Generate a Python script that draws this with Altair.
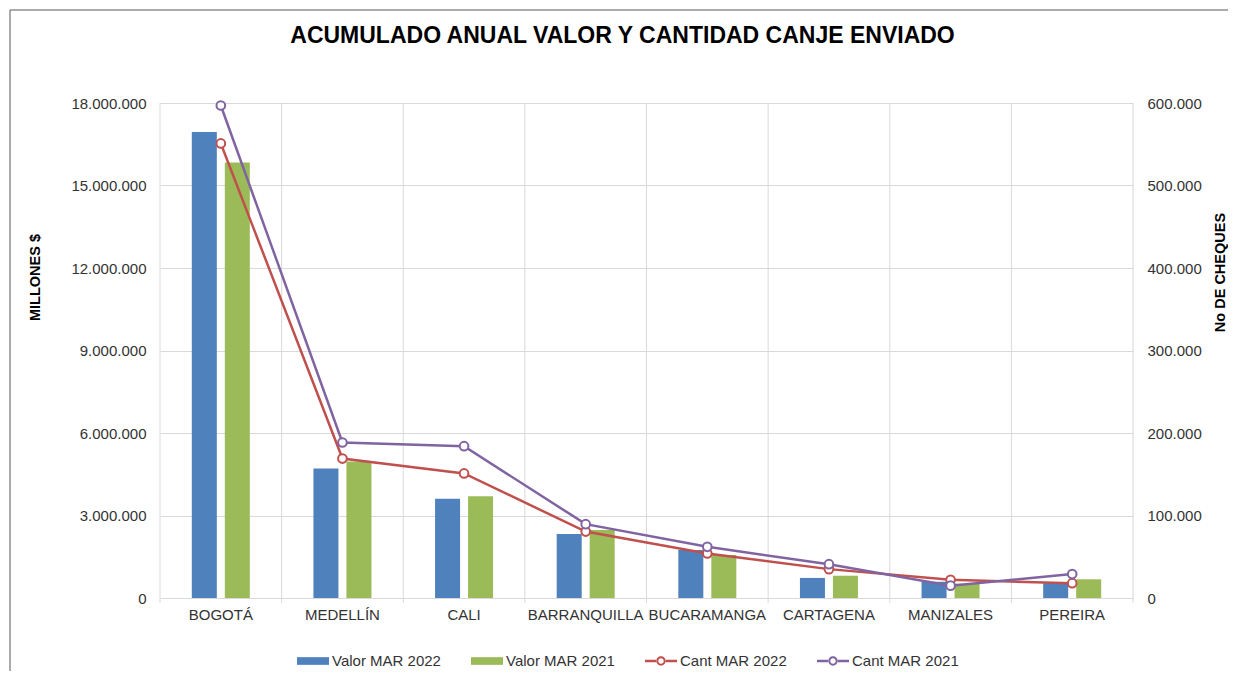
import altair as alt
import pandas as pd

# ---------------- data ----------------
cities = ["BOGOTÁ", "MEDELLÍN", "CALI", "BARRANQUILLA", "BUCARAMANGA",
          "CARTAGENA", "MANIZALES", "PEREIRA"]
valor_mar_2022 = [16950000, 4710000, 3610000, 2330000, 1750000, 730000, 590000, 540000]
valor_mar_2021 = [15840000, 4960000, 3700000, 2470000, 1560000, 810000, 520000, 680000]
cant_mar_2022 = [551000, 169000, 151000, 80500, 54000, 35000, 22000, 18000]
cant_mar_2021 = [597000, 188500, 184000, 89500, 62000, 41000, 15000, 29000]

series = ["Valor MAR 2022", "Valor MAR 2021", "Cant MAR 2022", "Cant MAR 2021"]
left_ticks = [0, 3000000, 6000000, 9000000, 12000000, 15000000, 18000000]
right_ticks = [0, 100000, 200000, 300000, 400000, 500000, 600000]

# ---------------- styling ----------------
W, H = 973, 495
FONT = "Liberation Sans"
colors = ["#4f81bd", "#9bbb59", "#c0504d", "#8064a2"]
GRID = "#d9d9d9"
TXT = "#333333"

bars_df = pd.DataFrame(
    [{"ciudad": c, "serie": series[0], "valor": v} for c, v in zip(cities, valor_mar_2022)]
    + [{"ciudad": c, "serie": series[1], "valor": v} for c, v in zip(cities, valor_mar_2021)]
)
lines_df = pd.DataFrame(
    [{"ciudad": c, "serie": series[2], "cant": v} for c, v in zip(cities, cant_mar_2022)]
    + [{"ciudad": c, "serie": series[3], "cant": v} for c, v in zip(cities, cant_mar_2021)]
)
city_df = pd.DataFrame({"ciudad": cities})
one_df = pd.DataFrame({"k": [0]})

xscale = alt.Scale(domain=cities, paddingInner=0, paddingOuter=0)
x_axis = alt.Axis(title=None, labelAngle=0, labelFontSize=15, labelColor=TXT, labelPadding=9,
                  ticks=False, domain=False, grid=False, labelOverlap=False, labelFont=FONT)
yleft = alt.Scale(domain=[0, 18000000], nice=False)
yleft_axis = alt.Axis(
    orient="left", values=left_ticks, format=",d", grid=True, gridColor=GRID, ticks=False,
    domain=False, labelFontSize=15, labelColor=TXT, labelPadding=14, labelFont=FONT,
    title="MILLONES $", titleFontSize=14.5, titleFontWeight="bold", titleColor="black",
    titleFont=FONT, titleAngle=270, titleX=-125, titleY=174, titleAlign="center",
    titleBaseline="middle")
yright = alt.Scale(domain=[0, 600000], nice=False)
yright_axis = alt.Axis(
    orient="right", values=right_ticks, format=",d", grid=False, ticks=False, domain=False,
    labelFontSize=15, labelColor=TXT, labelPadding=14, labelFont=FONT,
    title="No DE CHEQUES", titleFontSize=14.5, titleFontWeight="bold", titleColor="black",
    titleFont=FONT, titleAngle=270, titleX=87, titleY=169, titleAlign="center",
    titleBaseline="middle")

border = alt.Chart(one_df).mark_rect(filled=False, stroke="#595959", strokeWidth=1).encode(
    x=alt.value(-150), x2=alt.value(W + 300), y=alt.value(-93), y2=alt.value(H + 300)
)

vgrid = alt.Chart(city_df).mark_rule(color=GRID, strokeWidth=1).encode(
    x=alt.X("ciudad:N", scale=xscale, bandPosition=0, axis=x_axis),
    y=alt.value(0), y2=alt.value(H + 5),
)
vgrid_end = alt.Chart(city_df).transform_filter(
    alt.datum.ciudad == cities[-1]
).mark_rule(color=GRID, strokeWidth=1).encode(
    x=alt.X("ciudad:N", scale=xscale, bandPosition=1, axis=x_axis),
    y=alt.value(0), y2=alt.value(H + 5),
)

offset = alt.XOffset("serie:N", scale=alt.Scale(domain=series[:2], paddingInner=0.242,
                                                paddingOuter=0.964))
bar_layers = [
    alt.Chart(bars_df).transform_filter(alt.datum.serie == s).mark_bar(color=col).encode(
        x=alt.X("ciudad:N", scale=xscale, axis=x_axis),
        xOffset=offset,
        y=alt.Y("valor:Q", scale=yleft, axis=yleft_axis),
    )
    for s, col in zip(series[:2], colors[:2])
]

left = alt.layer(border, vgrid, vgrid_end, *bar_layers)

line_layers = [
    alt.Chart(lines_df).transform_filter(alt.datum.serie == s).mark_line(
        color=col, strokeWidth=2.5,
        point=alt.OverlayMarkDef(filled=False, fill="white", stroke=col, size=75,
                                 strokeWidth=2, opacity=1),
    ).encode(
        x=alt.X("ciudad:N", scale=xscale, axis=x_axis),
        y=alt.Y("cant:Q", scale=yright, axis=yright_axis),
    )
    for s, col in zip(series[2:], colors[2:])
]
right = alt.layer(*line_layers)

# legend-only layer (no rows drawn); symbols are bars and line+open-circle
bar_path = "M-1,-0.24L1,-0.24L1,0.24L-1,0.24Z"
line_path = ("M-1,-0.08L-0.27,-0.08L-0.27,0.08L-1,0.08Z"
             "M0.27,-0.08L1,-0.08L1,0.08L0.27,0.08Z"
             "M-0.29,0A0.29,0.29 0 1,0 0.29,0A0.29,0.29 0 1,0 -0.29,0Z"
             "M-0.17,0A0.17,0.17 0 1,1 0.17,0A0.17,0.17 0 1,1 -0.17,0Z")
leg = dict(orient="none", legendX=137, legendY=542, direction="horizontal", title=None,
           symbolSize=1024, symbolStrokeWidth=0, labelFontSize=15, labelColor=TXT,
           labelFont=FONT, labelOffset=3, columnPadding=30, columns=4)
legend_layer = alt.Chart(lines_df).transform_filter("false").mark_point(
    filled=True, opacity=1
).encode(
    color=alt.Color("serie:N", scale=alt.Scale(domain=series, range=colors),
                    legend=alt.Legend(**leg)),
    shape=alt.Shape("serie:N", scale=alt.Scale(domain=series,
                                               range=[bar_path, bar_path, line_path, line_path]),
                    legend=alt.Legend(**leg)),
)

chart = alt.layer(left, right, legend_layer).resolve_scale(y="independent").properties(
    width=W, height=H,
    autosize=alt.AutoSizeParams(type="none"),
    padding={"left": 152, "top": 95, "right": 95, "bottom": 73},
    title=alt.TitleParams(
        text="ACUMULADO ANUAL  VALOR Y CANTIDAD CANJE ENVIADO", font=FONT, fontSize=23,
        fontWeight="bold", color="black", anchor="middle", dx=-24, offset=-56,
        baseline="alphabetic"),
).configure(
    locale={"number": {"decimal": ",", "thousands": ".", "grouping": [3],
                       "currency": ["$", ""]}},
    font=FONT,
).configure_view(stroke=None, fill="#f1f1f1")

chart.save("out.html", embed_options={"renderer": "svg", "actions": False})
